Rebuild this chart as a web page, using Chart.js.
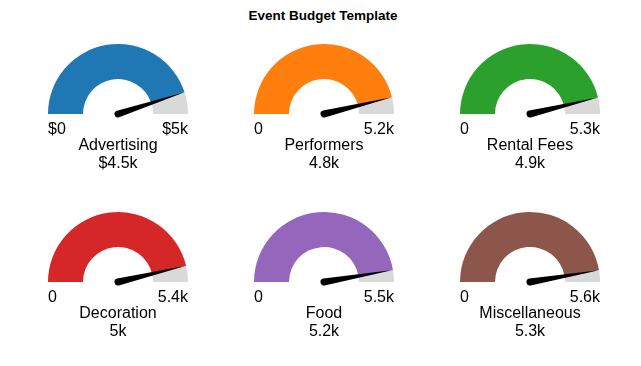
<!DOCTYPE html>
<html>
<head>
<meta charset="utf-8">
<script src="https://cdn.jsdelivr.net/npm/chart.js@4.4.1/dist/chart.umd.min.js"></script>
<style>
  html, body { margin: 0; padding: 0; background: #fff; }
  body { width: 641px; height: 366px; position: relative; overflow: hidden; }
  #title { position: absolute; left: 0; width: 646px; top: 8px; text-align: center;
    font: bold 13.5px "Liberation Sans", Arial, sans-serif; line-height: 16px; color: #000; }
  canvas { position: absolute; }
</style>
</head>
<body>
<div id="title">Event Budget Template</div>
<script>
// gauge data
const categories = ['Advertising', 'Performers', 'Rental Fees', 'Decoration', 'Food', 'Miscellaneous'];
const values = [4500, 4800, 4900, 5000, 5200, 5300];
const maxValues = [5000, 5200, 5300, 5400, 5500, 5600];
const minLabels = ['$0', '0', '0', '0', '0', '0'];
const maxLabels = ['$5k', '5.2k', '5.3k', '5.4k', '5.5k', '5.6k'];
const valueLabels = ['$4.5k', '4.8k', '4.9k', '5k', '5.2k', '5.3k'];
const colors = ['#1f77b4', '#ff7f0e', '#2ca02c', '#d62728', '#9467bd', '#8c564b'];

const centersX = [118, 324, 530];
const centersY = [114, 282];
const FONT = '16px "Liberation Sans", Arial, sans-serif';

// draws the needle + labels on top of each half doughnut
const gaugeExtras = {
  id: 'gaugeExtras',
  afterDraw(chart) {
    const i = chart.options.plugins.gaugeExtras.index;
    const arc = chart.getDatasetMeta(0).data[0];
    const { x, y, outerRadius, endAngle } = arc.getProps(['x', 'y', 'outerRadius', 'endAngle'], true);
    const ctx = chart.ctx;

    ctx.save();
    ctx.translate(x, y);
    ctx.rotate(endAngle);
    ctx.beginPath();
    ctx.moveTo(0, -3.5);
    ctx.lineTo(outerRadius, 0);
    ctx.lineTo(0, 3.5);
    ctx.arc(0, 0, 3.5, Math.PI / 2, Math.PI * 1.5);
    ctx.closePath();
    ctx.fillStyle = '#000';
    ctx.fill();
    ctx.restore();

    ctx.save();
    ctx.font = FONT;
    ctx.fillStyle = '#000';
    ctx.textBaseline = 'alphabetic';
    ctx.textAlign = 'left';
    ctx.fillText(minLabels[i], x - outerRadius, y + 20);
    ctx.textAlign = 'right';
    ctx.fillText(maxLabels[i], x + outerRadius, y + 20);
    ctx.textAlign = 'center';
    ctx.fillText(categories[i], x, y + 36);
    ctx.fillText(valueLabels[i], x, y + 54);
    ctx.restore();
  }
};

categories.forEach((name, i) => {
  const cx = centersX[i % 3];
  const cy = centersY[Math.floor(i / 3)];
  const canvas = document.createElement('canvas');
  canvas.width = 200;
  canvas.height = 180;
  canvas.style.left = (cx - 100) + 'px';
  canvas.style.top = (cy - 80) + 'px';
  canvas.style.width = '200px';
  canvas.style.height = '180px';
  document.body.appendChild(canvas);

  new Chart(canvas.getContext('2d'), {
    type: 'doughnut',
    data: {
      labels: [name, 'rest'],
      datasets: [{
        data: [values[i], maxValues[i] - values[i]],
        backgroundColor: [colors[i], '#d9d9d9'],
        borderWidth: 0
      }]
    },
    options: {
      responsive: false,
      animation: false,
      devicePixelRatio: 1,
      rotation: -90,
      circumference: 180,
      cutout: '50%',
      layout: { padding: { left: 30, right: 30, top: 10, bottom: 100 } },
      events: [],
      plugins: {
        legend: { display: false },
        tooltip: { enabled: false },
        gaugeExtras: { index: i }
      }
    },
    plugins: [gaugeExtras]
  });
});
</script>
</body>
</html>
